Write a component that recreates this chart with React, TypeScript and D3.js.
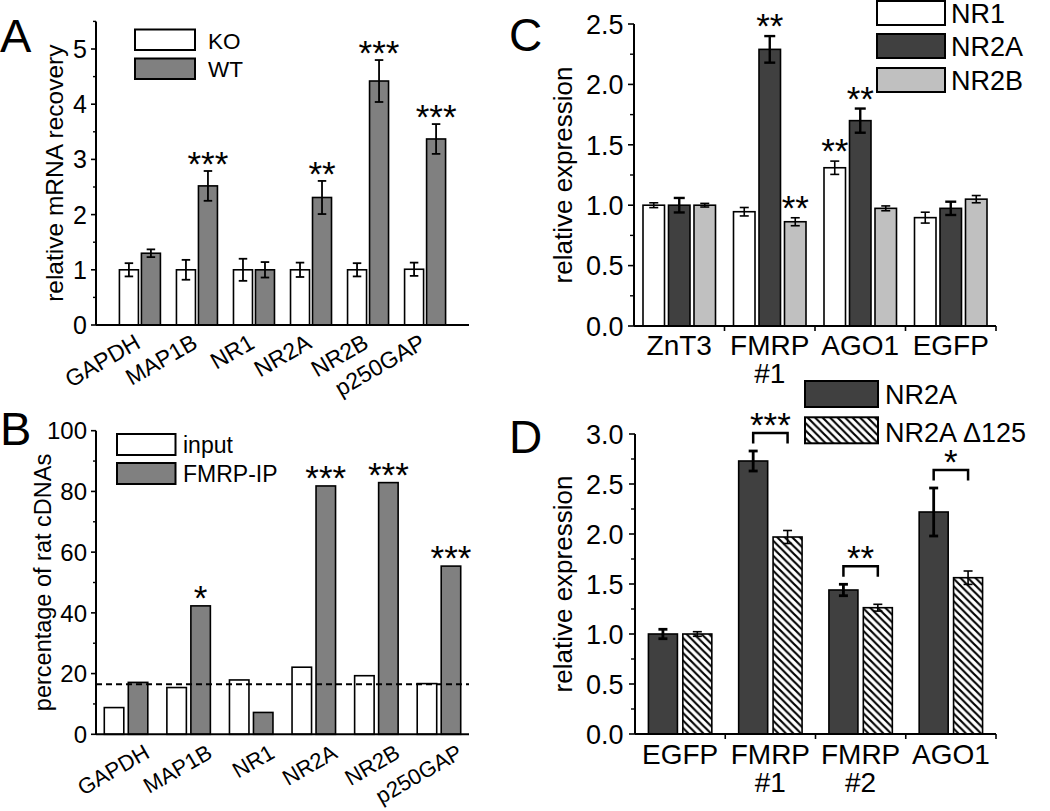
import React from "react";
import * as d3 from "d3";

const FONT = "'Liberation Sans', Arial, Helvetica, sans-serif";

// ---------- Panel A ----------
const catsA = ["GAPDH", "MAP1B", "NR1", "NR2A", "NR2B", "p250GAP"];
const koA = [1.0, 1.0, 1.0, 1.0, 1.0, 1.01];
const koErrA = [0.12, 0.18, 0.2, 0.13, 0.12, 0.12];
const wtA = [1.3, 2.52, 1.0, 2.31, 4.42, 3.37];
const wtErrA = [0.07, 0.27, 0.14, 0.3, 0.38, 0.27];
const sigA = ["", "***", "", "**", "***", "***"];
const ticksA = [0, 1, 2, 3, 4, 5];
const minorA = [0.5, 1.5, 2.5, 3.5, 4.5, 5.5];

// ---------- Panel B ----------
const catsB = ["GAPDH", "MAP1B", "NR1", "NR2A", "NR2B", "p250GAP"];
const inputB = [8.8, 15.4, 17.9, 22.1, 19.3, 16.7];
const fmrpB = [17.1, 42.3, 7.2, 81.8, 82.9, 55.4];
const sigB = ["", "*", "", "***", "***", "***"];
const chanceB = 16.5;
const ticksB = [0, 20, 40, 60, 80, 100];
const minorB = [10, 30, 50, 70, 90];

// ---------- Panel C ----------
const catsC = [["ZnT3"], ["FMRP", "#1"], ["AGO1"], ["EGFP"]];
const nr1C = [1.0, 0.946, 1.31, 0.897];
const nr1ErrC = [0.02, 0.035, 0.055, 0.045];
const nr2aC = [1.0, 2.29, 1.7, 0.974];
const nr2aErrC = [0.06, 0.11, 0.1, 0.055];
const nr2bC = [1.0, 0.863, 0.974, 1.05];
const nr2bErrC = [0.015, 0.033, 0.02, 0.03];
const sigNr1C = ["", "", "**", ""];
const sigNr2aC = ["", "**", "**", ""];
const sigNr2bC = ["", "**", "", ""];
const ticksC = [0, 0.5, 1.0, 1.5, 2.0, 2.5];
const minorC = [0.25, 0.75, 1.25, 1.75, 2.25];

// ---------- Panel D ----------
const catsD = [["EGFP"], ["FMRP", "#1"], ["FMRP", "#2"], ["AGO1"]];
const nr2aD = [1.0, 2.73, 1.44, 2.22];
const nr2aErrD = [0.047, 0.1, 0.057, 0.24];
const d125D = [1.0, 1.97, 1.263, 1.563];
const d125ErrD = [0.023, 0.065, 0.034, 0.067];
const sigD = ["", "***", "**", "*"];
const ticksD = [0, 0.5, 1.0, 1.5, 2.0, 2.5, 3.0];
const minorD = [0.25, 0.75, 1.25, 1.75, 2.25, 2.75];

const STAR = 35;
const STAR_OFF = 20; // baseline below ink centre

function ErrBar({ x, y0, y1, w = 9, sw = 1.5 }: any) {
  return (
    <g stroke="#000" strokeWidth={sw} fill="none">
      <line x1={x} x2={x} y1={y0} y2={y1} />
      <line x1={x - w / 2} x2={x + w / 2} y1={y0} y2={y0} />
      <line x1={x - w / 2} x2={x + w / 2} y1={y1} y2={y1} />
    </g>
  );
}

function YAxis({ x, y, ticks, minor, fmt, fs, gap, maj, min, top }: any) {
  return (
    <g>
      <line x1={x} x2={x} y1={y(0)} y2={y(top)} stroke="#000" strokeWidth={2} />
      {ticks.map((t: number) => (
        <g key={"t" + t}>
          <line x1={x - maj} x2={x} y1={y(t)} y2={y(t)} stroke="#000" strokeWidth={1.6} />
          <text x={x - gap} y={y(t)} dy="0.36em" textAnchor="end" fontSize={fs} fontFamily={FONT}>
            {fmt(t)}
          </text>
        </g>
      ))}
      {minor.map((t: number) => (
        <line key={"m" + t} x1={x - min} x2={x} y1={y(t)} y2={y(t)} stroke="#000" strokeWidth={1.4} />
      ))}
    </g>
  );
}

export default function App() {
  // ---- A scales
  const xA = d3.scalePoint<string>().domain(catsA).range([96, 469]).padding(0.77);
  const yA = d3.scaleLinear().domain([0, 5.5]).range([325, 21.4]);
  // ---- B scales
  const xB = d3.scalePoint<string>().domain(catsB).range([96, 469]).padding(0.48);
  const yB = d3.scaleLinear().domain([0, 100]).range([734.3, 430.7]);
  // ---- C scales
  const keysC = catsC.map((c) => c.join(" "));
  const xC = d3.scaleBand<string>().domain(keysC).range([634, 996]).padding(0);
  const yC = d3.scaleLinear().domain([0, 2.5]).range([326, 24]);
  // ---- D scales
  const keysD = catsD.map((c) => c.join(" "));
  const xD = d3.scaleBand<string>().domain(keysD).range([635, 996]).padding(0);
  const yD = d3.scaleLinear().domain([0, 3]).range([734, 434]);

  const bwA = 19, offA = 11;
  const bwB = 19.5, offB = 12;
  const bwC = 21.5, offC = 25.5;
  const bwD = 29, offD = 17.2;

  const fmt0 = d3.format("d");
  const fmt1 = d3.format(".1f");

  const barStroke = { stroke: "#000", strokeWidth: 1.6 };

  return (
    <svg
      width={1050}
      height={811}
      style={{ position: "absolute", left: 0, top: 0, background: "#fff" }}
      fontFamily={FONT}
    >
      <defs>
        <pattern id="hatch" patternUnits="userSpaceOnUse" width={7.5} height={7.5}>
          <rect width={7.5} height={7.5} fill="#fff" />
          <path d="M0,0 L7.5,7.5 M-1.5,6 L1.5,9 M6,-1.5 L9,1.5" stroke="#000" strokeWidth={2.1} />
        </pattern>
      </defs>
      <rect width={1050} height={811} fill="#fff" />

      {/* ================= Panel A ================= */}
      <text x={0} y={52} fontSize={47}>A</text>
      <text transform={`translate(62.5,${(yA(0) + yA(5.5)) / 2}) rotate(-90)`} textAnchor="middle" fontSize={24.5}>
        relative mRNA recovery
      </text>
      {catsA.map((c, i) => {
        const cx = xA(c)!;
        const koX = cx - offA, wtX = cx + offA;
        return (
          <g key={c}>
            <rect x={koX - bwA / 2} y={yA(koA[i])} width={bwA} height={yA(0) - yA(koA[i])} fill="#fff" {...barStroke} />
            <rect x={wtX - bwA / 2} y={yA(wtA[i])} width={bwA} height={yA(0) - yA(wtA[i])} fill="#808080" {...barStroke} />
            <ErrBar x={koX} y0={yA(koA[i] - koErrA[i])} y1={yA(koA[i] + koErrA[i])} w={8.5} sw={1.8} />
            <ErrBar x={wtX} y0={yA(wtA[i] - wtErrA[i])} y1={yA(wtA[i] + wtErrA[i])} w={8.5} sw={1.8} />
            {sigA[i] && (
              <text x={wtX} y={yA(wtA[i] + wtErrA[i]) - 15 + STAR_OFF} textAnchor="middle" fontSize={STAR}>
                {sigA[i]}
              </text>
            )}
            <text transform={`translate(${cx + 2},${yA(0) + 22}) rotate(-30)`} textAnchor="end" fontSize={23}>
              {c}
            </text>
          </g>
        );
      })}
      <line x1={96} x2={469} y1={yA(0)} y2={yA(0)} stroke="#000" strokeWidth={2} />
      <YAxis x={96} y={yA} ticks={ticksA} minor={minorA} fmt={fmt0} fs={25} gap={9} maj={5} min={3} top={5.5} />
      {/* legend A */}
      <rect x={135} y={29.5} width={60} height={20.5} fill="#fff" stroke="#000" strokeWidth={2} />
      <rect x={135} y={58.5} width={60} height={20.5} fill="#808080" stroke="#000" strokeWidth={2} />
      <text x={208} y={49} fontSize={22.5}>KO</text>
      <text x={208} y={77.3} fontSize={22.5}>WT</text>

      {/* ================= Panel B ================= */}
      <text x={0} y={445} fontSize={47}>B</text>
      <text transform={`translate(51,${(yB(0) + yB(100)) / 2}) rotate(-90)`} textAnchor="middle" fontSize={23.5}>
        percentage of rat cDNAs
      </text>
      {catsB.map((c, i) => {
        const cx = xB(c)!;
        const inX = cx - offB, ipX = cx + offB;
        return (
          <g key={c}>
            <rect x={inX - bwB / 2} y={yB(inputB[i])} width={bwB} height={yB(0) - yB(inputB[i])} fill="#fff" {...barStroke} />
            <rect x={ipX - bwB / 2} y={yB(fmrpB[i])} width={bwB} height={yB(0) - yB(fmrpB[i])} fill="#808080" {...barStroke} />
            {sigB[i] && (
              <text x={ipX} y={yB(fmrpB[i]) - 16 + STAR_OFF} textAnchor="middle" fontSize={STAR}>
                {sigB[i]}
              </text>
            )}
            <text transform={`translate(${cx + 25},${yB(0) + 22.5}) rotate(-30)`} textAnchor="end" fontSize={22}>
              {c}
            </text>
          </g>
        );
      })}
      <line x1={96} x2={469} y1={yB(chanceB)} y2={yB(chanceB)} stroke="#000" strokeWidth={2} strokeDasharray="6,4" />
      <line x1={96} x2={469} y1={yB(0)} y2={yB(0)} stroke="#000" strokeWidth={2} />
      <YAxis x={96} y={yB} ticks={ticksB} minor={minorB} fmt={fmt0} fs={24} gap={9} maj={5} min={3} top={100} />
      {/* legend B */}
      <rect x={117} y={434} width={58.5} height={21} fill="#fff" stroke="#000" strokeWidth={2} />
      <rect x={117} y={463} width={58.5} height={21} fill="#808080" stroke="#000" strokeWidth={2} />
      <text x={183} y={453.3} fontSize={23}>input</text>
      <text x={183} y={481.7} fontSize={23}>FMRP-IP</text>

      {/* ================= Panel C ================= */}
      <text x={509} y={51} fontSize={46}>C</text>
      <text transform={`translate(572,${(yC(0) + yC(2.5)) / 2}) rotate(-90)`} textAnchor="middle" fontSize={26}>
        relative expression
      </text>
      {keysC.map((k, i) => {
        const cx = xC(k)! + xC.bandwidth() / 2;
        const xs = [cx - offC, cx, cx + offC];
        const vals = [nr1C[i], nr2aC[i], nr2bC[i]];
        const errs = [nr1ErrC[i], nr2aErrC[i], nr2bErrC[i]];
        const fills = ["#fff", "#404040", "#c0c0c0"];
        const sws = [1.6, 2.4, 1.6];
        const sigs = [sigNr1C[i], sigNr2aC[i], sigNr2bC[i]];
        return (
          <g key={k}>
            {xs.map((bx, j) => (
              <rect key={j} x={bx - bwC / 2} y={yC(vals[j])} width={bwC} height={yC(0) - yC(vals[j])} fill={fills[j]} {...barStroke} />
            ))}
            {xs.map((bx, j) => (
              <ErrBar key={"e" + j} x={bx} y0={yC(vals[j] - errs[j])} y1={yC(vals[j] + errs[j])} w={j === 1 ? 11 : 9} sw={sws[j]} />
            ))}
            {xs.map((bx, j) =>
              sigs[j] ? (
                <text key={"s" + j} x={bx} y={yC(vals[j] + errs[j]) - 18 + STAR_OFF} textAnchor="middle" fontSize={STAR}>
                  {sigs[j]}
                </text>
              ) : null
            )}
            {catsC[i].map((line, li) => (
              <text key={"l" + li} x={cx} y={355 + li * 28} textAnchor="middle" fontSize={28}>
                {line}
              </text>
            ))}
          </g>
        );
      })}
      <line x1={634} x2={996} y1={yC(0)} y2={yC(0)} stroke="#000" strokeWidth={2} />
      {keysC.map((k) => (
        <line key={k} x1={xC(k)! + xC.bandwidth()} x2={xC(k)! + xC.bandwidth()} y1={yC(0)} y2={yC(0) + 5} stroke="#000" strokeWidth={1.6} />
      ))}
      <YAxis x={634} y={yC} ticks={ticksC} minor={minorC} fmt={fmt1} fs={27} gap={10.5} maj={6} min={4} top={2.5} />
      {/* legend C */}
      {[
        { t: "NR1", f: "#fff", y: 1 },
        { t: "NR2A", f: "#404040", y: 34 },
        { t: "NR2B", f: "#c0c0c0", y: 68 },
      ].map((d) => (
        <g key={d.t}>
          <rect x={877} y={d.y} width={68} height={24} fill={d.f} stroke="#000" strokeWidth={2} />
          <text x={951} y={d.y + 21.5} fontSize={27}>{d.t}</text>
        </g>
      ))}

      {/* ================= Panel D ================= */}
      <text x={509} y={453} fontSize={46}>D</text>
      <text transform={`translate(572,${(yD(0) + yD(3)) / 2}) rotate(-90)`} textAnchor="middle" fontSize={26}>
        relative expression
      </text>
      {keysD.map((k, i) => {
        const cx = xD(k)! + xD.bandwidth() / 2;
        const ax = cx - offD, bx = cx + offD;
        const aTop = yD(nr2aD[i] + nr2aErrD[i]);
        const bTop = yD(d125D[i] + d125ErrD[i]);
        const brY = Math.min(aTop, bTop) - 18;
        return (
          <g key={k}>
            <rect x={ax - bwD / 2} y={yD(nr2aD[i])} width={bwD} height={yD(0) - yD(nr2aD[i])} fill="#404040" {...barStroke} />
            <rect x={bx - bwD / 2} y={yD(d125D[i])} width={bwD} height={yD(0) - yD(d125D[i])} fill="url(#hatch)" {...barStroke} />
            <ErrBar x={ax} y0={yD(nr2aD[i] - nr2aErrD[i])} y1={aTop} w={9} sw={2.8} />
            <ErrBar x={bx} y0={yD(d125D[i] - d125ErrD[i])} y1={bTop} w={9} sw={1.6} />
            {sigD[i] && (
              <g>
                <path d={`M${ax},${brY + 10.5} V${brY} H${bx} V${brY + 10.5}`} fill="none" stroke="#000" strokeWidth={2.5} />
                <text x={(ax + bx) / 2} y={brY - 16.5 + STAR_OFF} textAnchor="middle" fontSize={STAR}>
                  {sigD[i]}
                </text>
              </g>
            )}
            {catsD[i].map((line, li) => (
              <text key={"l" + li} x={cx} y={764 + li * 28} textAnchor="middle" fontSize={28}>
                {line}
              </text>
            ))}
          </g>
        );
      })}
      <line x1={635} x2={996} y1={yD(0)} y2={yD(0)} stroke="#000" strokeWidth={2} />
      {keysD.map((k) => (
        <line key={k} x1={xD(k)! + xD.bandwidth()} x2={xD(k)! + xD.bandwidth()} y1={yD(0)} y2={yD(0) + 5} stroke="#000" strokeWidth={1.6} />
      ))}
      <YAxis x={635} y={yD} ticks={ticksD} minor={minorD} fmt={fmt1} fs={27} gap={11.5} maj={6} min={4} top={3} />
      {/* legend D */}
      <rect x={805} y={381} width={73} height={26} fill="#404040" stroke="#000" strokeWidth={2} />
      <rect x={805} y={417.3} width={73} height={26} fill="url(#hatch)" stroke="#000" strokeWidth={2} />
      <text x={885} y={404} fontSize={27}>NR2A</text>
      <text x={885} y={441.7} fontSize={27}>NR2A Δ125</text>
    </svg>
  );
}
